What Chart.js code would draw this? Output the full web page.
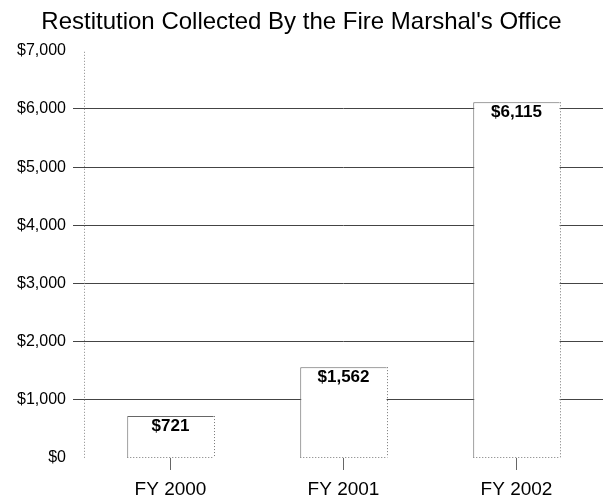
<!DOCTYPE html>
<html>
<head>
<meta charset="utf-8">
<script src="https://cdn.jsdelivr.net/npm/chart.js@4/dist/chart.umd.min.js"></script>
<style>
  html, body { margin: 0; padding: 0; background: #fff; }
  #wrap { width: 603px; height: 498px; }
</style>
</head>
<body>
<div id="wrap"><canvas id="c" width="603" height="498"></canvas></div>
<script>
const categories = ['FY 2000', 'FY 2001', 'FY 2002'];
const restitution = [721, 1562, 6115];
const yTicks = [0, 1000, 2000, 3000, 4000, 5000, 6000, 7000];

const FONT = "'Liberation Sans', Arial, Helvetica, sans-serif";
const money = v => '$' + v.toLocaleString('en-US');

// Dotted value axis, dotted right/bottom bar edges and bold value labels
const barExtras = {
  id: 'barExtras',
  beforeDatasetsDraw(chart) {
    const ctx = chart.ctx;
    const y = chart.scales.y;
    const x = Math.round(y.right) + 0.5;
    ctx.save();
    ctx.strokeStyle = '#888';
    ctx.lineWidth = 1;
    ctx.setLineDash([1, 2]);
    ctx.beginPath();
    ctx.moveTo(x, chart.chartArea.top + 1);
    ctx.lineTo(x, chart.chartArea.bottom);
    ctx.stroke();
    ctx.restore();
  },
  afterDatasetsDraw(chart) {
    const ctx = chart.ctx;
    const meta = chart.getDatasetMeta(0);
    meta.data.forEach((bar, i) => {
      const half = bar.width / 2;
      const l = bar.x - half, r = bar.x + half;
      ctx.save();
      ctx.strokeStyle = '#777';
      ctx.lineWidth = 1;
      ctx.setLineDash([1, 2]);
      ctx.beginPath();
      ctx.moveTo(Math.round(r) + 0.5, bar.y);
      ctx.lineTo(Math.round(r) + 0.5, bar.base);
      ctx.moveTo(l, Math.round(bar.base) - 0.5);
      ctx.lineTo(r, Math.round(bar.base) - 0.5);
      ctx.stroke();
      ctx.setLineDash([]);
      ctx.fillStyle = '#000';
      ctx.font = 'bold 17px ' + FONT;
      ctx.textAlign = 'center';
      ctx.textBaseline = 'top';
      ctx.fillText(money(restitution[i]), bar.x, bar.y + 2);
      ctx.restore();
    });
  }
};

new Chart(document.getElementById('c'), {
  type: 'bar',
  data: {
    labels: categories,
    datasets: [{
      data: restitution,
      backgroundColor: '#ffffff',
      borderColor: '#666',
      borderWidth: { left: 1, top: 1, right: 0, bottom: 0 },
      borderSkipped: false,
      categoryPercentage: 1,
      barPercentage: 0.5
    }]
  },
  options: {
    responsive: false,
    animation: false,
    layout: { padding: { left: 0, right: 0, top: 0, bottom: 0 } },
    plugins: {
      legend: { display: false },
      tooltip: { enabled: false },
      title: {
        display: true,
        text: "Restitution Collected By the Fire Marshal's Office",
        color: '#000',
        font: { family: FONT, size: 24, weight: 'normal', lineHeight: 1.2 },
        padding: { top: 8, bottom: 14 }
      }
    },
    scales: {
      x: {
        offset: true,
        afterFit(scale) { scale.height = 40; },
        grid: {
          offset: false,
          drawOnChartArea: false,
          drawTicks: true,
          tickLength: 12,
          color: '#666'
        },
        border: { display: false },
        ticks: {
          color: '#000',
          padding: 8,
          font: { family: FONT, size: 19 }
        }
      },
      y: {
        min: 0,
        max: 7000,
        afterBuildTicks(scale) { scale.ticks = yTicks.map(v => ({ value: v })); },
        afterFit(scale) { scale.width = 84; },
        grid: {
          color: ctx => (ctx.tick && (ctx.tick.value === 0 || ctx.tick.value === 7000)) ? 'rgba(0,0,0,0)' : '#444',
          tickLength: 11,
          lineWidth: 1
        },
        border: { display: false },
        ticks: {
          color: '#000',
          padding: 7,
          font: { family: FONT, size: 16 },
          callback: v => money(v)
        }
      }
    }
  },
  plugins: [barExtras]
});
</script>
</body>
</html>
